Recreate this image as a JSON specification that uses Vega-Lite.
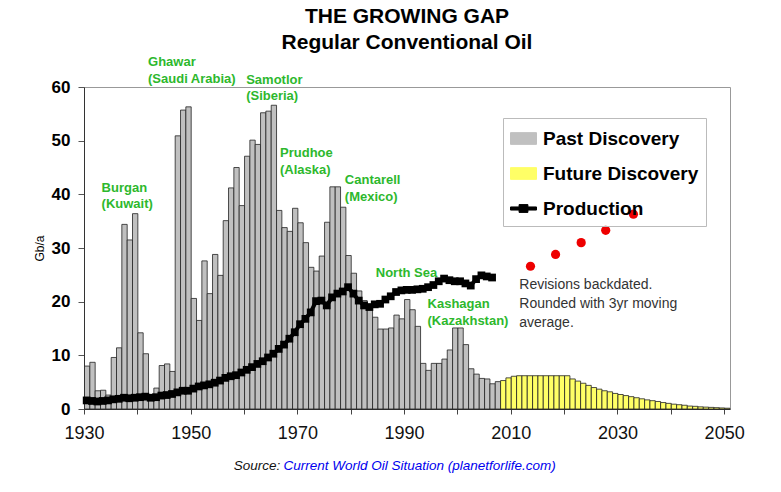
{
  "$schema": "https://vega.github.io/schema/vega-lite/v6.json",
  "autosize": "none",
  "width": 646,
  "height": 322,
  "padding": {"left": 84, "top": 87, "right": 51, "bottom": 83},
  "background": "white",
  "config": {
    "font": "Liberation Sans",
    "view": {"stroke": "#999", "strokeWidth": 1}
  },
  "title": {
    "text": ["THE GROWING GAP", "Regular Conventional Oil"],
    "fontSize": 21,
    "fontWeight": "bold",
    "color": "black",
    "lineHeight": 26,
    "frame": "group",
    "anchor": "middle",
    "baseline": "bottom",
    "offset": -18
  },
  "datasets": {
    "discovery": [
      {"year": 1930, "gb": 8.0, "series": "Past Discovery"},
      {"year": 1931, "gb": 8.7, "series": "Past Discovery"},
      {"year": 1932, "gb": 3.4, "series": "Past Discovery"},
      {"year": 1933, "gb": 3.5, "series": "Past Discovery"},
      {"year": 1934, "gb": 2.6, "series": "Past Discovery"},
      {"year": 1935, "gb": 9.6, "series": "Past Discovery"},
      {"year": 1936, "gb": 11.4, "series": "Past Discovery"},
      {"year": 1937, "gb": 34.4, "series": "Past Discovery"},
      {"year": 1938, "gb": 31.5, "series": "Past Discovery"},
      {"year": 1939, "gb": 36.4, "series": "Past Discovery"},
      {"year": 1940, "gb": 14.2, "series": "Past Discovery"},
      {"year": 1941, "gb": 10.3, "series": "Past Discovery"},
      {"year": 1942, "gb": 2.2, "series": "Past Discovery"},
      {"year": 1943, "gb": 3.9, "series": "Past Discovery"},
      {"year": 1944, "gb": 8.1, "series": "Past Discovery"},
      {"year": 1945, "gb": 8.4, "series": "Past Discovery"},
      {"year": 1946, "gb": 7.0, "series": "Past Discovery"},
      {"year": 1947, "gb": 50.9, "series": "Past Discovery"},
      {"year": 1948, "gb": 55.7, "series": "Past Discovery"},
      {"year": 1949, "gb": 56.3, "series": "Past Discovery"},
      {"year": 1950, "gb": 20.6, "series": "Past Discovery"},
      {"year": 1951, "gb": 16.5, "series": "Past Discovery"},
      {"year": 1952, "gb": 27.6, "series": "Past Discovery"},
      {"year": 1953, "gb": 21.5, "series": "Past Discovery"},
      {"year": 1954, "gb": 28.8, "series": "Past Discovery"},
      {"year": 1955, "gb": 24.9, "series": "Past Discovery"},
      {"year": 1956, "gb": 35.1, "series": "Past Discovery"},
      {"year": 1957, "gb": 41.2, "series": "Past Discovery"},
      {"year": 1958, "gb": 45.0, "series": "Past Discovery"},
      {"year": 1959, "gb": 37.9, "series": "Past Discovery"},
      {"year": 1960, "gb": 47.1, "series": "Past Discovery"},
      {"year": 1961, "gb": 50.1, "series": "Past Discovery"},
      {"year": 1962, "gb": 49.3, "series": "Past Discovery"},
      {"year": 1963, "gb": 55.2, "series": "Past Discovery"},
      {"year": 1964, "gb": 55.5, "series": "Past Discovery"},
      {"year": 1965, "gb": 56.6, "series": "Past Discovery"},
      {"year": 1966, "gb": 37.0, "series": "Past Discovery"},
      {"year": 1967, "gb": 33.8, "series": "Past Discovery"},
      {"year": 1968, "gb": 33.1, "series": "Past Discovery"},
      {"year": 1969, "gb": 37.4, "series": "Past Discovery"},
      {"year": 1970, "gb": 34.7, "series": "Past Discovery"},
      {"year": 1971, "gb": 31.0, "series": "Past Discovery"},
      {"year": 1972, "gb": 26.4, "series": "Past Discovery"},
      {"year": 1973, "gb": 25.7, "series": "Past Discovery"},
      {"year": 1974, "gb": 28.5, "series": "Past Discovery"},
      {"year": 1975, "gb": 34.8, "series": "Past Discovery"},
      {"year": 1976, "gb": 41.4, "series": "Past Discovery"},
      {"year": 1977, "gb": 41.4, "series": "Past Discovery"},
      {"year": 1978, "gb": 37.6, "series": "Past Discovery"},
      {"year": 1979, "gb": 28.6, "series": "Past Discovery"},
      {"year": 1980, "gb": 25.3, "series": "Past Discovery"},
      {"year": 1981, "gb": 22.0, "series": "Past Discovery"},
      {"year": 1982, "gb": 20.2, "series": "Past Discovery"},
      {"year": 1983, "gb": 19.0, "series": "Past Discovery"},
      {"year": 1984, "gb": 17.1, "series": "Past Discovery"},
      {"year": 1985, "gb": 14.9, "series": "Past Discovery"},
      {"year": 1986, "gb": 14.9, "series": "Past Discovery"},
      {"year": 1987, "gb": 15.1, "series": "Past Discovery"},
      {"year": 1988, "gb": 17.5, "series": "Past Discovery"},
      {"year": 1989, "gb": 16.8, "series": "Past Discovery"},
      {"year": 1990, "gb": 20.4, "series": "Past Discovery"},
      {"year": 1991, "gb": 18.5, "series": "Past Discovery"},
      {"year": 1992, "gb": 15.4, "series": "Past Discovery"},
      {"year": 1993, "gb": 8.5, "series": "Past Discovery"},
      {"year": 1994, "gb": 7.2, "series": "Past Discovery"},
      {"year": 1995, "gb": 8.5, "series": "Past Discovery"},
      {"year": 1996, "gb": 8.5, "series": "Past Discovery"},
      {"year": 1997, "gb": 9.3, "series": "Past Discovery"},
      {"year": 1998, "gb": 11.0, "series": "Past Discovery"},
      {"year": 1999, "gb": 15.1, "series": "Past Discovery"},
      {"year": 2000, "gb": 15.1, "series": "Past Discovery"},
      {"year": 2001, "gb": 12.0, "series": "Past Discovery"},
      {"year": 2002, "gb": 7.5, "series": "Past Discovery"},
      {"year": 2003, "gb": 6.5, "series": "Past Discovery"},
      {"year": 2004, "gb": 5.7, "series": "Past Discovery"},
      {"year": 2005, "gb": 5.6, "series": "Past Discovery"},
      {"year": 2006, "gb": 4.7, "series": "Past Discovery"},
      {"year": 2007, "gb": 5.1, "series": "Past Discovery"},
      {"year": 2008, "gb": 5.3, "series": "Future Discovery"},
      {"year": 2009, "gb": 5.8, "series": "Future Discovery"},
      {"year": 2010, "gb": 6.1, "series": "Future Discovery"},
      {"year": 2011, "gb": 6.2, "series": "Future Discovery"},
      {"year": 2012, "gb": 6.2, "series": "Future Discovery"},
      {"year": 2013, "gb": 6.2, "series": "Future Discovery"},
      {"year": 2014, "gb": 6.2, "series": "Future Discovery"},
      {"year": 2015, "gb": 6.2, "series": "Future Discovery"},
      {"year": 2016, "gb": 6.2, "series": "Future Discovery"},
      {"year": 2017, "gb": 6.2, "series": "Future Discovery"},
      {"year": 2018, "gb": 6.2, "series": "Future Discovery"},
      {"year": 2019, "gb": 6.2, "series": "Future Discovery"},
      {"year": 2020, "gb": 6.2, "series": "Future Discovery"},
      {"year": 2021, "gb": 5.6, "series": "Future Discovery"},
      {"year": 2022, "gb": 5.2, "series": "Future Discovery"},
      {"year": 2023, "gb": 4.8, "series": "Future Discovery"},
      {"year": 2024, "gb": 4.4, "series": "Future Discovery"},
      {"year": 2025, "gb": 4.0, "series": "Future Discovery"},
      {"year": 2026, "gb": 3.7, "series": "Future Discovery"},
      {"year": 2027, "gb": 3.4, "series": "Future Discovery"},
      {"year": 2028, "gb": 3.2, "series": "Future Discovery"},
      {"year": 2029, "gb": 2.9, "series": "Future Discovery"},
      {"year": 2030, "gb": 2.7, "series": "Future Discovery"},
      {"year": 2031, "gb": 2.5, "series": "Future Discovery"},
      {"year": 2032, "gb": 2.3, "series": "Future Discovery"},
      {"year": 2033, "gb": 2.1, "series": "Future Discovery"},
      {"year": 2034, "gb": 1.9, "series": "Future Discovery"},
      {"year": 2035, "gb": 1.7, "series": "Future Discovery"},
      {"year": 2036, "gb": 1.55, "series": "Future Discovery"},
      {"year": 2037, "gb": 1.4, "series": "Future Discovery"},
      {"year": 2038, "gb": 1.2, "series": "Future Discovery"},
      {"year": 2039, "gb": 1.05, "series": "Future Discovery"},
      {"year": 2040, "gb": 0.9, "series": "Future Discovery"},
      {"year": 2041, "gb": 0.8, "series": "Future Discovery"},
      {"year": 2042, "gb": 0.7, "series": "Future Discovery"},
      {"year": 2043, "gb": 0.55, "series": "Future Discovery"},
      {"year": 2044, "gb": 0.5, "series": "Future Discovery"},
      {"year": 2045, "gb": 0.4, "series": "Future Discovery"},
      {"year": 2046, "gb": 0.35, "series": "Future Discovery"},
      {"year": 2047, "gb": 0.3, "series": "Future Discovery"},
      {"year": 2048, "gb": 0.25, "series": "Future Discovery"},
      {"year": 2049, "gb": 0.2, "series": "Future Discovery"},
      {"year": 2050, "gb": 0.15, "series": "Future Discovery"}
    ],
    "production": [
      {"year": 1930, "gb": 1.6, "series": "Production"},
      {"year": 1931, "gb": 1.5, "series": "Production"},
      {"year": 1932, "gb": 1.4, "series": "Production"},
      {"year": 1933, "gb": 1.5, "series": "Production"},
      {"year": 1934, "gb": 1.6, "series": "Production"},
      {"year": 1935, "gb": 1.8, "series": "Production"},
      {"year": 1936, "gb": 1.9, "series": "Production"},
      {"year": 1937, "gb": 2.1, "series": "Production"},
      {"year": 1938, "gb": 2.0, "series": "Production"},
      {"year": 1939, "gb": 2.1, "series": "Production"},
      {"year": 1940, "gb": 2.2, "series": "Production"},
      {"year": 1941, "gb": 2.3, "series": "Production"},
      {"year": 1942, "gb": 2.1, "series": "Production"},
      {"year": 1943, "gb": 2.2, "series": "Production"},
      {"year": 1944, "gb": 2.5, "series": "Production"},
      {"year": 1945, "gb": 2.6, "series": "Production"},
      {"year": 1946, "gb": 2.8, "series": "Production"},
      {"year": 1947, "gb": 3.1, "series": "Production"},
      {"year": 1948, "gb": 3.4, "series": "Production"},
      {"year": 1949, "gb": 3.4, "series": "Production"},
      {"year": 1950, "gb": 3.8, "series": "Production"},
      {"year": 1951, "gb": 4.2, "series": "Production"},
      {"year": 1952, "gb": 4.4, "series": "Production"},
      {"year": 1953, "gb": 4.6, "series": "Production"},
      {"year": 1954, "gb": 4.9, "series": "Production"},
      {"year": 1955, "gb": 5.3, "series": "Production"},
      {"year": 1956, "gb": 5.8, "series": "Production"},
      {"year": 1957, "gb": 6.1, "series": "Production"},
      {"year": 1958, "gb": 6.3, "series": "Production"},
      {"year": 1959, "gb": 6.8, "series": "Production"},
      {"year": 1960, "gb": 7.3, "series": "Production"},
      {"year": 1961, "gb": 7.8, "series": "Production"},
      {"year": 1962, "gb": 8.4, "series": "Production"},
      {"year": 1963, "gb": 8.9, "series": "Production"},
      {"year": 1964, "gb": 9.6, "series": "Production"},
      {"year": 1965, "gb": 10.3, "series": "Production"},
      {"year": 1966, "gb": 11.2, "series": "Production"},
      {"year": 1967, "gb": 12.0, "series": "Production"},
      {"year": 1968, "gb": 13.1, "series": "Production"},
      {"year": 1969, "gb": 14.3, "series": "Production"},
      {"year": 1970, "gb": 15.8, "series": "Production"},
      {"year": 1971, "gb": 16.8, "series": "Production"},
      {"year": 1972, "gb": 18.0, "series": "Production"},
      {"year": 1973, "gb": 20.1, "series": "Production"},
      {"year": 1974, "gb": 20.2, "series": "Production"},
      {"year": 1975, "gb": 19.3, "series": "Production"},
      {"year": 1976, "gb": 20.8, "series": "Production"},
      {"year": 1977, "gb": 21.5, "series": "Production"},
      {"year": 1978, "gb": 21.9, "series": "Production"},
      {"year": 1979, "gb": 22.7, "series": "Production"},
      {"year": 1980, "gb": 21.5, "series": "Production"},
      {"year": 1981, "gb": 20.2, "series": "Production"},
      {"year": 1982, "gb": 19.3, "series": "Production"},
      {"year": 1983, "gb": 19.0, "series": "Production"},
      {"year": 1984, "gb": 19.5, "series": "Production"},
      {"year": 1985, "gb": 19.6, "series": "Production"},
      {"year": 1986, "gb": 20.4, "series": "Production"},
      {"year": 1987, "gb": 21.0, "series": "Production"},
      {"year": 1988, "gb": 21.8, "series": "Production"},
      {"year": 1989, "gb": 22.1, "series": "Production"},
      {"year": 1990, "gb": 22.2, "series": "Production"},
      {"year": 1991, "gb": 22.2, "series": "Production"},
      {"year": 1992, "gb": 22.3, "series": "Production"},
      {"year": 1993, "gb": 22.4, "series": "Production"},
      {"year": 1994, "gb": 22.7, "series": "Production"},
      {"year": 1995, "gb": 23.1, "series": "Production"},
      {"year": 1996, "gb": 23.8, "series": "Production"},
      {"year": 1997, "gb": 24.3, "series": "Production"},
      {"year": 1998, "gb": 24.0, "series": "Production"},
      {"year": 1999, "gb": 23.8, "series": "Production"},
      {"year": 2000, "gb": 23.8, "series": "Production"},
      {"year": 2001, "gb": 23.4, "series": "Production"},
      {"year": 2002, "gb": 23.0, "series": "Production"},
      {"year": 2003, "gb": 24.2, "series": "Production"},
      {"year": 2004, "gb": 24.9, "series": "Production"},
      {"year": 2005, "gb": 24.7, "series": "Production"},
      {"year": 2006, "gb": 24.5, "series": "Production"}
    ],
    "revisions": [
      {"year": 2013.7, "gb": 26.6},
      {"year": 2018.4, "gb": 28.8},
      {"year": 2023.2, "gb": 31.0},
      {"year": 2027.8, "gb": 33.3},
      {"year": 2033.0, "gb": 36.3}
    ],
    "fields": [
      {"year": 1942.0, "gb": 65.7, "label": "Ghawar\n(Saudi Arabia)"},
      {"year": 1960.4, "gb": 62.5, "label": "Samotlor\n(Siberia)"},
      {"year": 1933.3, "gb": 42.3, "label": "Burgan\n(Kuwait)"},
      {"year": 1966.75, "gb": 48.8, "label": "Prudhoe\n(Alaska)"},
      {"year": 1978.9, "gb": 43.7, "label": "Cantarell\n(Mexico)"},
      {"year": 1984.7, "gb": 26.4, "label": "North Sea"},
      {"year": 1994.4, "gb": 20.6, "label": "Kashagan\n(Kazakhstan)"}
    ],
    "note": [
      {"year": 2011.6, "gb": 24.4, "label": "Revisions backdated.\nRounded with 3yr moving\naverage."}
    ],
    "sourceLabel": [
      {"year": 1966.8, "gb": -10.6, "label": "Source:"}
    ],
    "sourceLink": [
      {"year": 1967.4, "gb": -10.6, "label": "Current World Oil Situation (planetforlife.com)"}
    ]
  },
  "layer": [
    {
      "data": {"name": "discovery"},
      "mark": {"type": "bar", "binSpacing": 0, "stroke": "#222", "strokeWidth": 0.8},
      "encoding": {
        "x": {
          "field": "year",
          "type": "quantitative",
          "bin": {"step": 1, "extent": [1930, 2051]},
          "title": null,
          "scale": {"domain": [1930, 2051.1], "nice": false, "zero": false},
          "axis": {
            "title": null,
            "values": [1930, 1940, 1950, 1960, 1970, 1980, 1990, 2000, 2010, 2020, 2030, 2040, 2050],
            "labelExpr": "(datum.value - 1930) % 20 === 0 ? datum.value : ''",
            "labelOverlap": false,
            "labelFlush": false,
            "labelFontSize": 18,
            "labelColor": "#111",
            "labelPadding": 10,
            "labelDx": 3,
            "tickSize": 5,
            "tickColor": "#444",
            "domainColor": "#333",
            "grid": false
          }
        },
        "y": {
          "field": "gb",
          "type": "quantitative",
          "title": "Gb/a",
          "scale": {"domain": [0, 60], "nice": false},
          "axis": {
            "title": "Gb/a",
            "titleFontSize": 12,
            "titleFontWeight": "normal",
            "titleColor": "black",
            "titlePadding": 5,
            "values": [0, 10, 20, 30, 40, 50, 60],
            "labelFontSize": 17,
            "labelFontWeight": "bold",
            "labelColor": "black",
            "labelPadding": 8,
            "tickSize": 6,
            "tickColor": "#555",
            "domainColor": "#333",
            "grid": false
          }
        },
        "color": {
          "field": "series",
          "type": "nominal",
          "scale": {
            "domain": ["Past Discovery", "Future Discovery", "Production"],
            "range": ["#c0c0c0", "#ffff66", "#000000"]
          },
          "legend": {
            "title": null,
            "orient": "none",
            "legendX": 419,
            "legendY": 31,
            "padding": 7,
            "strokeColor": "#bbb",
            "fillColor": "transparent",
            "labelFontSize": 19,
            "labelFontWeight": "bold",
            "labelColor": "black",
            "labelOffset": 6,
            "rowPadding": 11,
            "symbolSize": 676,
            "symbolStrokeColor": "black",
            "symbolStrokeWidth": 1,
            "encode": {
              "symbols": {
                "update": {
                  "shape": {"signal": "datum.value === 'Production' ? 'M-1,-0.12H1V0.12H-1Z M-0.34,-0.3H0.34V0.3H-0.34Z' : 'M-1,-0.45H1V0.45H-1Z'"},
                  "fill": {"scale": "color", "field": "value"},
                  "stroke": {"value": "black"},
                  "strokeWidth": {"value": 1},
                  "size": {"value": 676},
                  "opacity": {"value": 1}
                }
              }
            }
          }
        }
      }
    },
    {
      "data": {"name": "production"},
      "mark": {"type": "line", "strokeWidth": 4},
      "encoding": {
        "x": {"field": "year", "type": "quantitative", "bin": {"step": 1, "extent": [1930, 2051]}, "title": null},
        "y": {"field": "gb", "type": "quantitative", "title": "Gb/a"},
        "color": {"field": "series", "type": "nominal"}
      }
    },
    {
      "data": {"name": "production"},
      "mark": {"type": "point", "shape": "square", "filled": true, "size": 60, "opacity": 1},
      "encoding": {
        "x": {"field": "year", "type": "quantitative", "bin": {"step": 1, "extent": [1930, 2051]}, "title": null},
        "y": {"field": "gb", "type": "quantitative", "title": "Gb/a"},
        "color": {"field": "series", "type": "nominal"}
      }
    },
    {
      "data": {"name": "revisions"},
      "mark": {"type": "point", "shape": "circle", "filled": true, "size": 85, "color": "#ee0000", "opacity": 1},
      "encoding": {
        "x": {"field": "year", "type": "quantitative", "title": null},
        "y": {"field": "gb", "type": "quantitative", "title": "Gb/a"}
      }
    },
    {
      "data": {"name": "fields"},
      "mark": {"type": "text", "align": "left", "baseline": "top", "lineBreak": "\n", "fontSize": 13, "fontWeight": "bold", "color": "#2db82d", "lineHeight": 16.5},
      "encoding": {
        "x": {"field": "year", "type": "quantitative", "title": null},
        "y": {"field": "gb", "type": "quantitative", "title": "Gb/a"},
        "text": {"field": "label"}
      }
    },
    {
      "data": {"name": "note"},
      "mark": {"type": "text", "align": "left", "baseline": "top", "lineBreak": "\n", "fontSize": 14, "color": "#333", "lineHeight": 19},
      "encoding": {
        "x": {"field": "year", "type": "quantitative", "title": null},
        "y": {"field": "gb", "type": "quantitative", "title": "Gb/a"},
        "text": {"field": "label"}
      }
    },
    {
      "data": {"name": "sourceLabel"},
      "mark": {"type": "text", "align": "right", "baseline": "middle", "fontSize": 13.5, "fontStyle": "italic", "color": "#111"},
      "encoding": {
        "x": {"field": "year", "type": "quantitative", "title": null},
        "y": {"field": "gb", "type": "quantitative", "title": "Gb/a"},
        "text": {"field": "label"}
      }
    },
    {
      "data": {"name": "sourceLink"},
      "mark": {"type": "text", "align": "left", "baseline": "middle", "fontSize": 13.5, "fontStyle": "italic", "color": "#0000ee"},
      "encoding": {
        "x": {"field": "year", "type": "quantitative", "title": null},
        "y": {"field": "gb", "type": "quantitative", "title": "Gb/a"},
        "text": {"field": "label"}
      }
    }
  ]
}
